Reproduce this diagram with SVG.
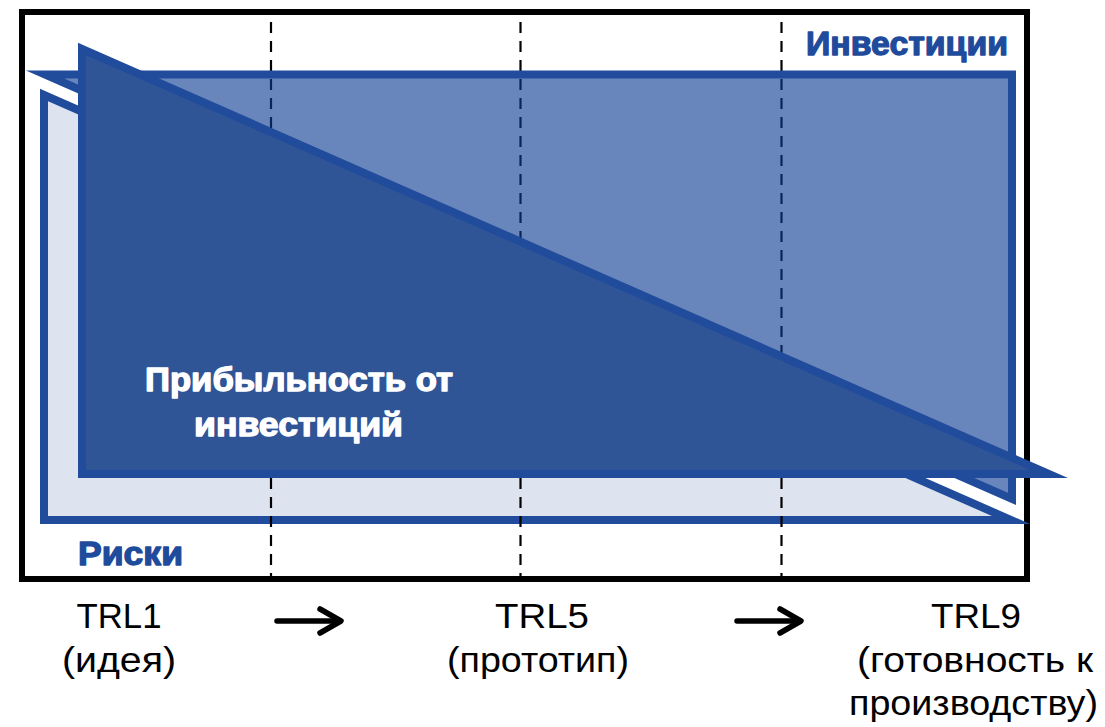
<svg xmlns="http://www.w3.org/2000/svg" width="1105" height="727" viewBox="0 0 1105 727">
<defs>
<style>
.shape{stroke:#214C9C;stroke-width:8;stroke-linejoin:miter;stroke-miterlimit:12}
.dash{stroke:#000;stroke-width:2.2;stroke-dasharray:11 8;stroke-dashoffset:12;fill:none}
.hd{font-family:"Liberation Sans",Arial,sans-serif;font-weight:bold;font-size:33px;stroke-width:1.3;stroke-linejoin:round}
.blue{fill:#1F4B9C;stroke:#1F4B9C}
.white{fill:#fff;stroke:#fff}
.lbl{font-family:"Liberation Sans",Arial,sans-serif;font-size:35px;fill:#000;text-anchor:middle}
.arr{stroke:#000;stroke-width:5.5;fill:none;stroke-linecap:round;stroke-linejoin:round}
</style>
</defs>
<rect width="1105" height="727" fill="#fff"/>
<rect id="frame" x="22" y="12" width="1005" height="567" fill="none" stroke="#000" stroke-width="6"/>
<g id="risks">
<polygon class="shape" points="44,95 1011,520 44,520" fill="#DEE3F0"/>
</g>
<g id="grid">
<line class="dash" x1="271" y1="15" x2="271" y2="576"/>
<line class="dash" x1="520.5" y1="15" x2="520.5" y2="576"/>
<line class="dash" x1="781.5" y1="15" x2="781.5" y2="576"/>
</g>
<g id="investments">
<polygon class="shape" points="45,74.5 1012,74.5 1012,499" fill="rgb(11,60,147)" fill-opacity="0.62"/>
</g>
<g id="profit">
<polygon class="shape" points="82,49 1049,474 82,474" fill="#2F5597"/>
</g>
<g id="labels">
<text class="hd blue" x="806" y="55" textLength="202" lengthAdjust="spacingAndGlyphs">Инвестиции</text>
<text class="hd white" x="299" y="391" text-anchor="middle" textLength="308" lengthAdjust="spacingAndGlyphs">Прибыльность от</text>
<text class="hd white" x="298.5" y="436" text-anchor="middle" textLength="209" lengthAdjust="spacingAndGlyphs">инвестиций</text>
<text class="hd blue" x="78" y="565" textLength="105" lengthAdjust="spacingAndGlyphs">Риски</text>
</g>
<g id="connectors">
<line class="arr" x1="277" y1="621" x2="339" y2="621"/>
<polyline class="arr" points="320,609 341,621 320,633"/>
<line class="arr" x1="737" y1="621" x2="799" y2="621"/>
<polyline class="arr" points="780,609 801,621 780,633"/>
</g>
<g id="trl1">
<text class="lbl" x="119" y="628" textLength="85" lengthAdjust="spacingAndGlyphs">TRL1</text>
<text class="lbl" x="119" y="672" textLength="114" lengthAdjust="spacingAndGlyphs">(идея)</text>
</g>
<g id="trl5">
<text class="lbl" x="542" y="628" textLength="94" lengthAdjust="spacingAndGlyphs">TRL5</text>
<text class="lbl" x="538" y="672" textLength="182" lengthAdjust="spacingAndGlyphs">(прототип)</text>
</g>
<g id="trl9">
<text class="lbl" x="976" y="628" textLength="90" lengthAdjust="spacingAndGlyphs">TRL9</text>
<text class="lbl" x="975" y="672" textLength="236" lengthAdjust="spacingAndGlyphs">(готовность к</text>
<text class="lbl" x="973.5" y="715" textLength="249" lengthAdjust="spacingAndGlyphs">производству)</text>
</g>
</svg>
